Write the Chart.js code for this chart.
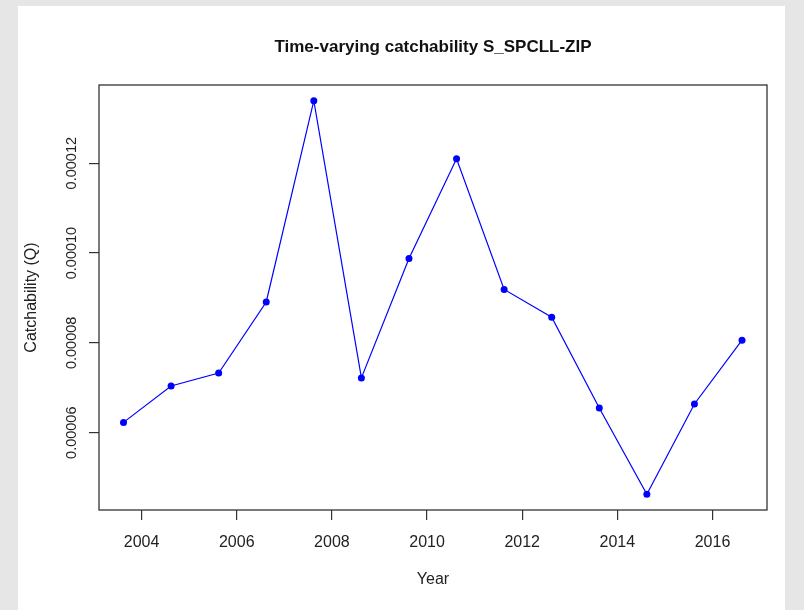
<!DOCTYPE html>
<html><head><meta charset="utf-8">
<script src="https://cdn.jsdelivr.net/npm/chart.js@4/dist/chart.umd.min.js"></script>
<style>html,body{margin:0;padding:0;background:#e6e6e6;overflow:hidden}</style>
</head><body>
<canvas id="c" width="804" height="610" style="display:block;width:804px;height:610px"></canvas>
<script>
const years = [2003.62, 2004.62, 2005.62, 2006.62, 2007.62, 2008.62, 2009.62, 2010.62, 2011.62, 2012.62, 2013.62, 2014.62, 2015.62, 2016.62];
const catchability = [6.23e-5, 7.04e-5, 7.33e-5, 8.91e-5, 13.39e-5, 7.22e-5, 9.88e-5, 12.10e-5, 9.19e-5, 8.57e-5, 6.55e-5, 4.63e-5, 6.64e-5, 8.06e-5];
const xTicks = [2004, 2006, 2008, 2010, 2012, 2014, 2016];
const yTicks = [6e-5, 8e-5, 10e-5, 12e-5];
const yTickLabels = ['0.00006', '0.00008', '0.00010', '0.00012'];
const chartTitle = 'Time-varying catchability S_SPCLL-ZIP';

Chart.defaults.font.family = "'Liberation Sans', Arial, sans-serif";
Chart.defaults.color = '#222';

const bgPlugin = {
  id: 'bg',
  beforeDraw(chart) {
    const ctx = chart.ctx;
    ctx.save();
    ctx.fillStyle = '#e6e6e6';
    ctx.fillRect(0, 0, chart.width, chart.height);
    ctx.fillStyle = '#ffffff';
    ctx.fillRect(18, 6, 767, 604);
    ctx.restore();
  },
  afterDraw(chart) {
    const a = chart.chartArea, ctx = chart.ctx;
    ctx.save();
    ctx.strokeStyle = '#333';
    ctx.lineWidth = 1.3;
    ctx.strokeRect(a.left, a.top, a.right - a.left, a.bottom - a.top);
    ctx.fillStyle = '#111';
    ctx.font = "bold 17px 'Liberation Sans', Arial, sans-serif";
    ctx.textAlign = 'center';
    ctx.textBaseline = 'middle';
    ctx.fillText(chartTitle, (a.left + a.right) / 2, 47);
    ctx.restore();
  }
};

new Chart(document.getElementById('c'), {
  type: 'scatter',
  data: {
    datasets: [{
      data: years.map((y, i) => ({x: y, y: catchability[i]})),
      showLine: true,
      borderColor: '#0000ff',
      borderWidth: 1.2,
      pointRadius: 3.5,
      pointBackgroundColor: '#0000ff',
      pointBorderWidth: 0,
      pointHoverRadius: 3.5
    }]
  },
  options: {
    responsive: false,
    devicePixelRatio: 1,
    animation: false,
    events: [],
    layout: {padding: {left: 18, top: 85, right: 37, bottom: 0}},
    plugins: {
      legend: {display: false},
      tooltip: {enabled: false},
      title: {display: false}
    },
    scales: {
      x: {
        type: 'linear',
        min: 2003.105,
        max: 2017.145,
        afterBuildTicks: s => { s.ticks = xTicks.map(v => ({value: v})); },
        afterFit: s => { s.height = 100; },
        ticks: {
          font: {size: 16},
          color: '#222',
          padding: 13,
          maxRotation: 0,
          callback: v => String(v)
        },
        grid: {drawOnChartArea: false, drawTicks: true, tickLength: 10, color: '#333', lineWidth: 1.2},
        border: {display: false},
        title: {display: true, text: 'Year', font: {size: 16, lineHeight: 1.2}, color: '#222', padding: {top: 0, bottom: 21}}
      },
      y: {
        type: 'linear',
        min: 4.28e-5,
        max: 13.74e-5,
        afterBuildTicks: s => { s.ticks = yTicks.map(v => ({value: v})); },
        afterFit: s => { s.width = 81; },
        ticks: {
          font: {size: 14.5},
          color: '#222',
          padding: -9,
          minRotation: 90,
          maxRotation: 90,
          crossAlign: 'center',
          callback: v => { const i = yTicks.indexOf(v); return i >= 0 ? yTickLabels[i] : ''; }
        },
        grid: {drawOnChartArea: false, drawTicks: true, tickLength: 10, color: '#333', lineWidth: 1.2},
        border: {display: false},
        title: {display: true, text: 'Catchability (Q)', font: {size: 16, lineHeight: 1.2}, color: '#222', padding: {top: 4, bottom: 0}}
      }
    }
  },
  plugins: [bgPlugin]
});
</script>
</body></html>
